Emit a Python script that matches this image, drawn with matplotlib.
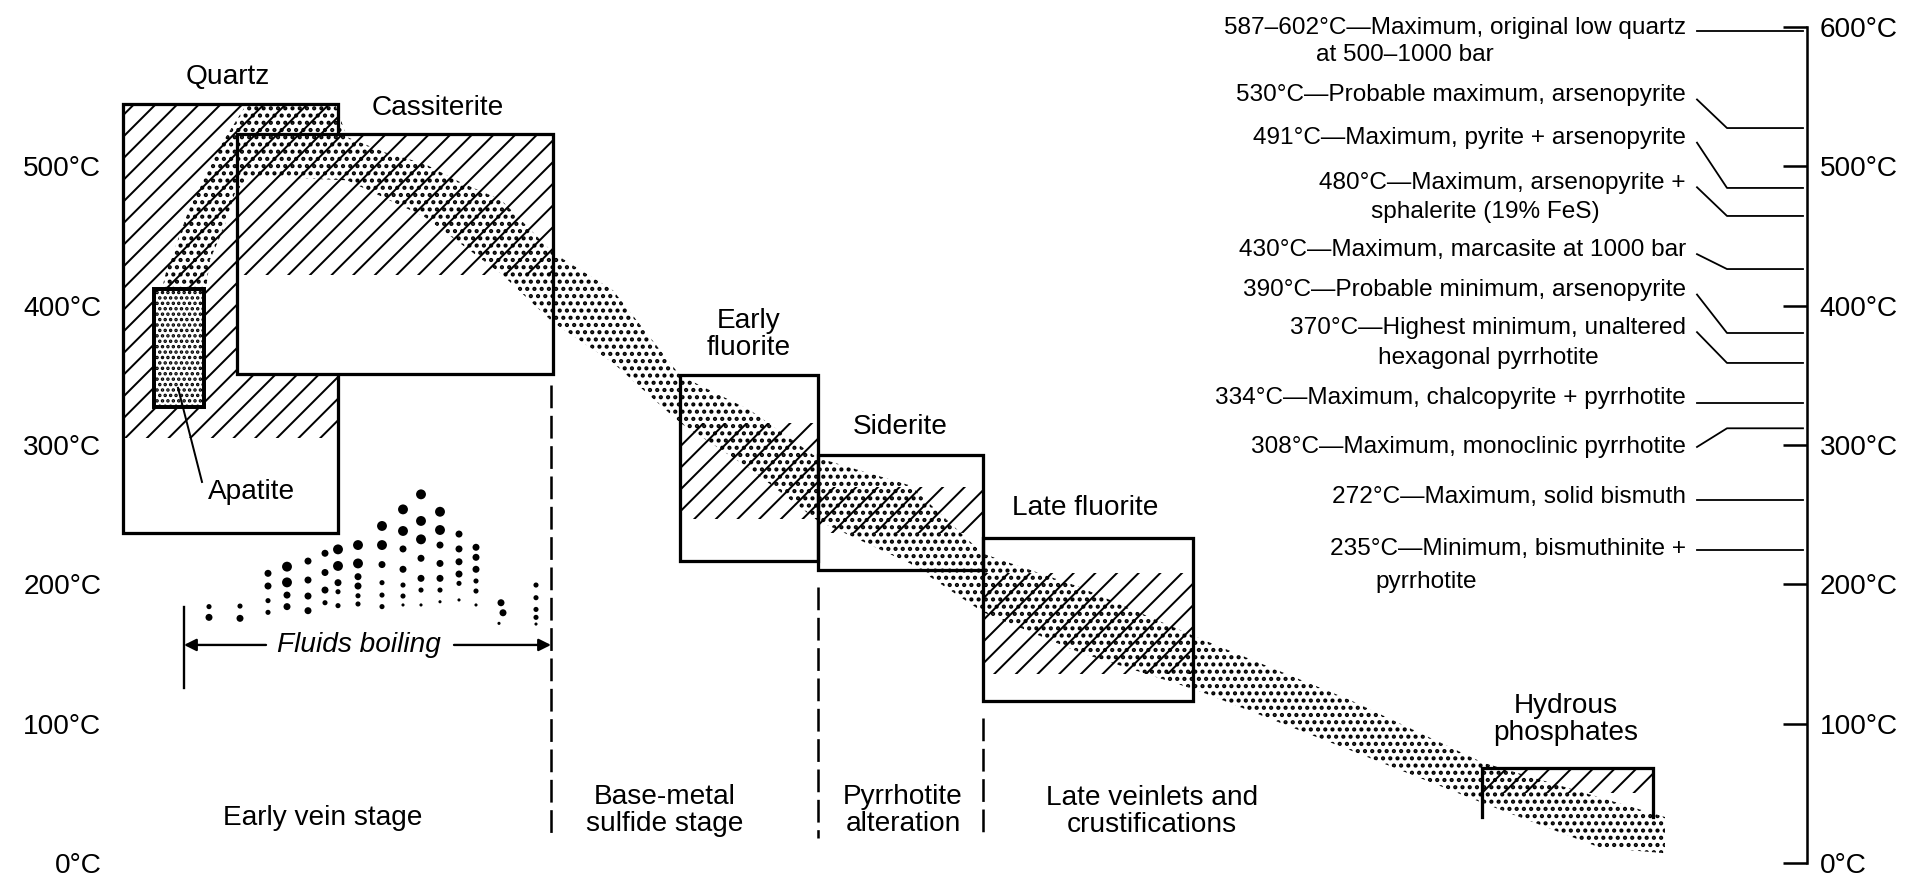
import matplotlib
matplotlib.use("Agg")
import matplotlib.pyplot as plt
from matplotlib.patches import Rectangle, Polygon
from matplotlib.ticker import FuncFormatter

plt.rcParams['font.family'] = ['Liberation Sans', 'DejaVu Sans']

DPI = 130
W, H = 1909, 877

# ---------------- data ----------------
# mineral stability boxes: paragenetic position (relative units) and temperature (°C)
minerals = ["Quartz", "Cassiterite", "Early\nfluorite", "Siderite",
            "Late fluorite", "Hydrous\nphosphates"]
box_start = [123, 237, 680, 818, 983, 1482]
box_end = [338, 553, 818, 983, 1193, 1653]
box_tmax = [545, 523, 350, 293, 233, 68]
box_tmin = [237, 351, 217, 210, 116, 33]
# hatched (most probable) part of each range
likely_tmax = [545, 523, 316, 270, 208, 68]
likely_tmin = [305, 422, 247, 237, 136, 50]

apatite_pos = [154, 204]
apatite_t = [327, 412]

# stippled band: temperature path of the ore fluid (outline)
band_x = [247, 335, 347, 385, 424, 462, 501, 553, 613, 680, 750, 817, 910, 983,
          1080, 1197, 1350, 1483, 1600, 1665,
          1665, 1600, 1483, 1350, 1197, 1080, 983, 910, 817, 750, 680, 613, 553,
          501, 424, 347, 250, 235, 224, 210, 206, 162, 166, 189, 216]
band_t = [545, 545, 521, 510, 502, 488, 476, 438, 411, 350, 325, 291, 271, 222,
          198, 162, 117, 72, 47, 33,
          7, 11, 43, 81, 124, 151, 180, 215, 246, 283, 316, 359, 388,
          423, 464, 490, 493, 481, 456, 433, 412, 412, 424, 469, 510]

# boiling fluid inclusions (position, temperature °C, size class 0-3)
boil_x = [209, 209, 240, 240,
          268, 268, 268, 268,
          287, 287, 287, 287,
          308, 308, 308, 308,
          325, 325, 325, 325,
          338, 338, 338, 338, 338,
          358, 358, 358, 358, 358, 358,
          382, 382, 382, 382, 382, 382,
          403, 403, 403, 403, 403, 403, 403,
          421, 421, 421, 421, 421, 421, 421,
          440, 440, 440, 440, 440, 440, 440,
          459, 459, 459, 459, 459, 459,
          476, 476, 476, 476, 476, 476,
          501, 503, 499,
          536, 536, 536, 536, 536]
boil_t = [184.0, 176.3, 184.4, 175.6,
          207.9, 198.8, 188.3, 179.9,
          212.7, 201.4, 192.3, 184.0,
          216.7, 203.1, 191.6, 181.1,
          222.3, 208.5, 195.9, 186.8,
          225.1, 213.2, 201.2, 194.7, 184.7,
          228.2, 215.0, 205.5, 198.8, 191.8, 185.9,
          241.9, 228.2, 214.2, 201.2, 192.3, 184.0,
          253.8, 238.3, 225.4, 210.8, 199.5, 191.6, 185.2,
          264.6, 245.5, 232.3, 218.7, 204.3, 195.9, 185.2,
          252.1, 239.0, 228.2, 215.0, 204.3, 195.9, 187.5,
          236.1, 225.4, 216.2, 207.4, 200.7, 188.8,
          226.6, 219.4, 210.8, 202.4, 195.2, 185.2,
          186.8, 179.6, 172.0,
          199.5, 190.4, 182.0, 176.3, 171.5]
boil_cls = [1, 2, 1, 2,
            2, 2, 1, 1,
            3, 3, 2, 2,
            2, 2, 2, 2,
            2, 2, 2, 1,
            3, 3, 2, 1, 1,
            3, 3, 2, 2, 1, 1,
            3, 3, 2, 1, 1, 1,
            3, 3, 2, 2, 1, 1, 0,
            3, 3, 3, 2, 2, 1, 0,
            3, 3, 2, 2, 2, 1, 0,
            2, 2, 2, 2, 1, 0,
            2, 2, 2, 1, 1, 0,
            2, 2, 0,
            1, 1, 1, 1, 0]

stages = ["Early vein stage", "Base-metal\nsulfide stage", "Pyrrhotite\nalteration",
          "Late veinlets and\ncrustifications"]
stage_bounds = [551, 818, 983]
stage_bound_top = [343, 198, 104]

ann_first = ["587–602°C—Maximum, original low quartz",
             "530°C—Probable maximum, arsenopyrite",
             "491°C—Maximum, pyrite + arsenopyrite",
             "480°C—Maximum, arsenopyrite +",
             "430°C—Maximum, marcasite at 1000 bar",
             "390°C—Probable minimum, arsenopyrite",
             "370°C—Highest minimum, unaltered",
             "334°C—Maximum, chalcopyrite + pyrrhotite",
             "308°C—Maximum, monoclinic pyrrhotite",
             "272°C—Maximum, solid bismuth",
             "235°C—Minimum, bismuthinite +"]
ann_second = ["at 500–1000 bar", None, None, "sphalerite (19% FeS)", None, None,
              "hexagonal pyrrhotite", None, None, None, "pyrrhotite"]
ann_leader_t = [597, 527.5, 484.5, 464.4, 426.3, 380.4, 358.9, 330, 312, 260.5, 224.6]

axis_ticks = [0, 100, 200, 300, 400, 500, 600]

# ---------------- layout ----------------
label_x = [228, 438, 749, 900, 1085, 1566]
label_t = [564, 542, 379, 313, 255, 103]
stage_x = [323, 665, 903, 1152]
stage_t = [32, 38, 38, 37]
ann_text_t = [599.3, 551, 520, 488, 440, 411, 384, 333.7, 298.6, 262.7, 225.4]
ann_second_t = [580, None, None, 467.2, None, None, 362.4, None, None, None, 201.7]
ann_second_x = [1316, None, None, 1371, None, None, 1378, None, None, None, 1375]
dot_sizes = {0: 3, 1: 8, 2: 15, 3: 30}

BOX_LW = 1.8
plt.rcParams['hatch.linewidth'] = 1.1


def hatch_lw(patch, lw):
    if hasattr(patch, "set_hatch_linewidth"):
        patch.set_hatch_linewidth(lw)


fig = plt.figure(figsize=(W / DPI, H / DPI), dpi=DPI)
ax = fig.add_axes([0, 0, 1, 1])
ax.set_xlim(0, W)
ax.set_ylim(-10.05, 619.4)

# boxes
for i, name in enumerate(minerals):
    x0, x1 = box_start[i], box_end[i]
    t0, t1 = box_tmin[i], box_tmax[i]
    z = 1 if i == 0 else 2
    ax.add_patch(Rectangle((x0, t0), x1 - x0, t1 - t0, facecolor='white',
                           edgecolor='none', lw=0, zorder=z))
    hp = Rectangle((x0, likely_tmin[i]), x1 - x0, likely_tmax[i] - likely_tmin[i],
                   fill=False, hatch='//', edgecolor='black', lw=0, zorder=z + 0.1)
    hatch_lw(hp, 1.1)
    ax.add_patch(hp)
    if name.startswith("Hydrous"):
        ax.plot([x0, x0, x1, x1], [t0, t1, t1, t0], color='black', lw=BOX_LW,
                zorder=z + 0.2, solid_joinstyle='miter')
    else:
        ax.add_patch(Rectangle((x0, t0), x1 - x0, t1 - t0, fill=False,
                               edgecolor='black', lw=BOX_LW, zorder=z + 0.2,
                               joinstyle='miter'))
    ax.text(label_x[i], label_t[i], name, ha='center', va='center',
            fontsize=15.5, linespacing=1.05, zorder=6)

# apatite
ax.add_patch(Rectangle((apatite_pos[0], apatite_t[0]), apatite_pos[1] - apatite_pos[0],
                       apatite_t[1] - apatite_t[0], facecolor='white', lw=0, zorder=3))
ap = Rectangle((apatite_pos[0], apatite_t[0]), apatite_pos[1] - apatite_pos[0],
               apatite_t[1] - apatite_t[0], fill=False, hatch='....',
               edgecolor='black', lw=0, zorder=3.1)
hatch_lw(ap, 1.3)
ax.add_patch(ap)
ax.add_patch(Rectangle((apatite_pos[0], apatite_t[0]), apatite_pos[1] - apatite_pos[0],
                       apatite_t[1] - apatite_t[0], fill=False, edgecolor='black',
                       lw=2.2, zorder=3.2))
ax.plot([202, 178], [273.5, 341], color='black', lw=1.1, zorder=6)
ax.text(252, 266, "Apatite", ha='center', va='center', fontsize=15.5, zorder=6)

# stippled fluid band
band = Polygon(list(zip(band_x, band_t)), closed=True, fill=False, hatch='...',
               edgecolor='black', lw=0, zorder=5)
hatch_lw(band, 1.5)
ax.add_patch(band)

# boiling inclusions
ax.scatter(boil_x, boil_t, s=[dot_sizes[c] for c in boil_cls], c='black', lw=0, zorder=5)
ax.plot([184, 184], [183.7, 125.6], color='black', lw=1.3, zorder=5)
ax.annotate('', xy=(184, 156.5), xytext=(266, 156.5),
            arrowprops=dict(arrowstyle='-|>', lw=1.3, color='black', mutation_scale=14,
                            shrinkA=0, shrinkB=0))
ax.annotate('', xy=(551, 156.5), xytext=(454, 156.5),
            arrowprops=dict(arrowstyle='-|>', lw=1.3, color='black', mutation_scale=14,
                            shrinkA=0, shrinkB=0))
ax.text(359, 156.5, "Fluids boiling", ha='center', va='center', fontsize=15.5,
        style='italic', zorder=6)

# stage boundaries and labels
for xb, tb in zip(stage_bounds, stage_bound_top):
    ax.plot([xb, xb], [tb, 18], color='black', lw=1.4, linestyle=(0, (9, 3)), zorder=4)
for s, sx, st in zip(stages, stage_x, stage_t):
    ax.text(sx, st, s, ha='center', va='center', fontsize=15.5, linespacing=1.05)

# right-hand annotations with leader lines
for i, txt in enumerate(ann_first):
    tt = ann_text_t[i]
    lt = ann_leader_t[i]
    ax.text(1686, tt, txt, ha='right', va='center', fontsize=13.5)
    if ann_second[i]:
        ax.text(ann_second_x[i], ann_second_t[i], ann_second[i], ha='left',
                va='center', fontsize=13.5)
    if abs(tt - lt) < 5:
        ax.plot([1697, 1803], [lt, lt], color='black', lw=1.0)
    else:
        st = tt - 3 if lt < tt else tt
        ax.plot([1697, 1727, 1803], [st, lt, lt], color='black', lw=1.0)

# temperature axes
for s in ('top', 'bottom', 'left'):
    ax.spines[s].set_visible(False)
ax.spines['left'].set_position(('data', 114))
ax.spines['right'].set_position(('data', 1807))
ax.spines['right'].set_bounds(0, 600)
ax.spines['right'].set_linewidth(1.4)
ax.set_xticks([])
ax.set_yticks(axis_ticks)
ax.yaxis.set_major_formatter(FuncFormatter(lambda v, p: f"{int(v)}°C"))
ax.tick_params(axis='y', left=False, right=True, labelleft=True, labelright=True,
               direction='in', length=13.5, width=1.4, pad=7, labelsize=15.5)
ax.yaxis.get_major_ticks()[-1].label1.set_visible(False)

fig.savefig("out.png", dpi=DPI, facecolor='white')
